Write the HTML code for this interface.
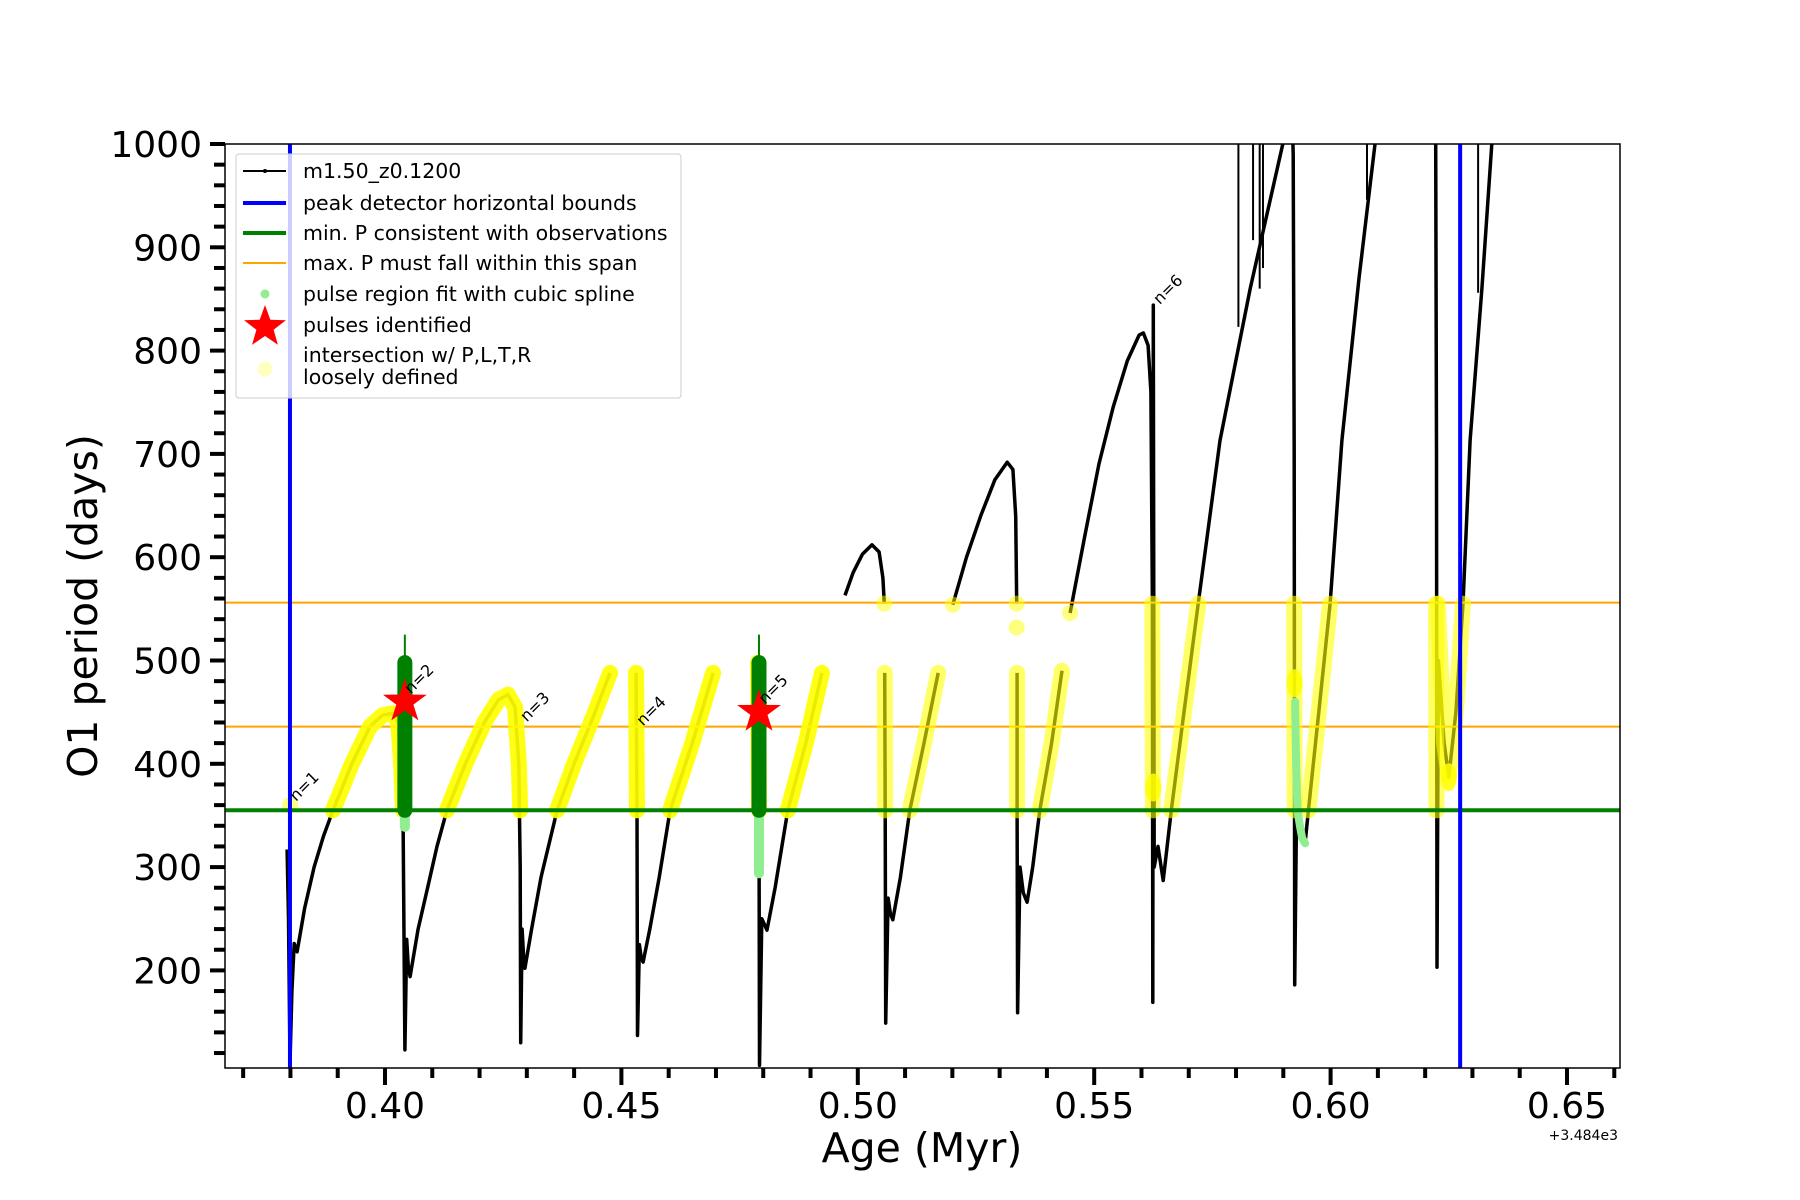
<!DOCTYPE html>
<html><head><meta charset="utf-8"><style>
html,body{margin:0;padding:0;background:#fff;}
svg{display:block;font-family:"DejaVu Sans","Liberation Sans",sans-serif;}
</style></head><body>
<svg id="chart" xmlns="http://www.w3.org/2000/svg" width="1800" height="1200" viewBox="0 0 1800 1200">
<rect x="0" y="0" width="1800" height="1200" fill="#fff"/>
<defs><clipPath id="plotclip"><rect x="225" y="144" width="1395" height="924"/></clipPath></defs>
<g id="plot" clip-path="url(#plotclip)"></g>
<rect x="225" y="144" width="1395" height="924" fill="none" stroke="#000" stroke-width="1.5"/>
<g id="axes"></g>
<text x="1618" y="1140" font-size="14" text-anchor="end">+3.484e3</text>
<text x="922" y="1162" font-size="41" text-anchor="middle">Age (Myr)</text>
<text transform="translate(97,606) rotate(-90)" font-size="41" text-anchor="middle">O1 period (days)</text>
<g id="legend"></g>
</svg>
<script>
// ---- data ----
const xMajorTicks = [0.40, 0.45, 0.50, 0.55, 0.60, 0.65];
const xMajorLabels = ["0.40", "0.45", "0.50", "0.55", "0.60", "0.65"];
const yMajorTicks = [200, 300, 400, 500, 600, 700, 800, 900, 1000];
const yMajorLabels = ["200", "300", "400", "500", "600", "700", "800", "900", "1000"];
const boundAges = [0.3799, 0.6274];
const minP = 355;
const maxPSpan = [436, 556];
const blackSegs = [
 [[0.3793,317],[0.3796,250],[0.3799,110],[0.3803,180],[0.3808,226],[0.3814,218],[0.3830,260],[0.3850,300],[0.3870,330],[0.3890,355],[0.3930,400],[0.3968,436],[0.3995,447],[0.4017,449],[0.4028,440],[0.4034,400],[0.4038,355],[0.4042,123],[0.4046,230],[0.4049,205],[0.4053,194],[0.4070,240],[0.4090,280],[0.4110,320],[0.4131,355],[0.4170,400],[0.4210,440],[0.4240,462],[0.4260,467],[0.4275,455],[0.4283,400],[0.4286,300],[0.4287,130],[0.4290,240],[0.4293,215],[0.4296,202],[0.4310,240],[0.4330,290],[0.4364,355],[0.4400,400],[0.4440,445],[0.4476,488]],
 [[0.4531,488],[0.4533,355],[0.4534,137],[0.4538,225],[0.4542,212],[0.4546,208],[0.4560,240],[0.4580,290],[0.4603,355],[0.4650,420],[0.4694,488]],
 [[0.4789,498],[0.4791,355],[0.4792,108],[0.4797,250],[0.4802,245],[0.4808,239],[0.4825,280],[0.4852,355],[0.4890,420],[0.4924,488]],
 [[0.4973,563],[0.4990,585],[0.5010,603],[0.5030,612],[0.5045,605],[0.5053,580],[0.5056,555]],
 [[0.5057,488],[0.5058,355],[0.5059,149],[0.5064,270],[0.5069,255],[0.5074,249],[0.5090,290],[0.5110,355],[0.5140,420],[0.5170,488]],
 [[0.5201,554],[0.5230,600],[0.5260,640],[0.5290,675],[0.5316,692],[0.5328,685],[0.5334,640],[0.5336,555]],
 [[0.5337,488],[0.5337,355],[0.5338,159],[0.5343,300],[0.5350,275],[0.5358,266],[0.5370,300],[0.5385,355],[0.5410,420],[0.5432,490]],
 [[0.5449,546],[0.5480,620],[0.5510,690],[0.5540,745],[0.5570,790],[0.5595,815],[0.5604,817],[0.5614,805],[0.5620,760],[0.5623,555],[0.5624,169],[0.5625,844],[0.5627,300],[0.5635,320],[0.5646,287],[0.5663,355],[0.5690,450],[0.5720,555],[0.5766,713],[0.5830,860],[0.5899,1000],[0.5905,1040]],
 [[0.5918,1040],[0.5921,990],[0.5923,700],[0.5924,186],[0.5928,360],[0.5935,340],[0.5946,323],[0.5953,355],[0.5975,450],[0.5999,555],[0.6024,713],[0.6060,870],[0.6094,1000],[0.6100,1030]],
 [[0.6222,1040],[0.6224,700],[0.6225,203],[0.6228,500],[0.6240,420],[0.6250,387],[0.6265,450],[0.6280,555],[0.6295,713],[0.6320,860],[0.6341,1000],[0.6345,1030]]
];
const spikeAges = [0.5805, 0.5836, 0.5850, 0.5857, 0.6077, 0.6312];
const spikeBottoms = [823, 907, 860, 880, 946, 856];
const yellowSegs = [
 [[0.3890,355],[0.3930,400],[0.3968,436],[0.3995,447],[0.4017,449],[0.4028,440],[0.4034,400],[0.4038,355]],
 [[0.4131,355],[0.4170,400],[0.4210,440],[0.4240,462],[0.4260,467],[0.4275,455],[0.4283,400],[0.4286,355]],
 [[0.4364,355],[0.4400,400],[0.4440,445],[0.4476,488]],
 [[0.4531,488],[0.4533,355]],
 [[0.4603,355],[0.4650,420],[0.4694,488]],
 [[0.4789,498],[0.4791,355]],
 [[0.4852,355],[0.4890,420],[0.4924,488]],
 [[0.5057,488],[0.5058,355]],
 [[0.5110,355],[0.5140,420],[0.5170,488]],
 [[0.5337,488],[0.5337,355]],
 [[0.5385,355],[0.5410,420],[0.5432,490]],
 [[0.5623,555],[0.5624,355]],
 [[0.5663,355],[0.5690,450],[0.5720,555]],
 [[0.5923,555],[0.5924,355]],
 [[0.5953,355],[0.5975,450],[0.5999,555]],
 [[0.6223,555],[0.6224,355]],
 [[0.6227,555],[0.6240,420],[0.6250,387],[0.6265,450],[0.6280,555]]
];
const yellowDotAges = [0.3799, 0.5056, 0.5201, 0.5336, 0.5336, 0.5449];
const yellowDotVals = [360, 555, 554, 555, 532, 546];
const brightBlobAges = [0.5625, 0.5924, 0.6250];
const brightBlobVals = [377, 478, 387];
const pulseAges = [0.4042, 0.4791];
const pulseTops = [498, 498];
const pulseThinTops = [525, 525];
const pulseLightBottoms = [339, 294];
const splineAges = [0.5925, 0.5927, 0.5930, 0.5935, 0.5940, 0.5946];
const splineVals = [460, 400, 355, 340, 328, 323];
const starAges = [0.4042, 0.4791];
const starVals = [460, 450];
const nLabelAges = [0.3799, 0.4042, 0.4287, 0.4533, 0.4791, 0.5626];
const nLabelVals = [363, 467, 440, 436, 457, 844];
const nLabelTexts = ["n=1", "n=2", "n=3", "n=4", "n=5", "n=6"];

// ---- scales ----
const NS = "http://www.w3.org/2000/svg";
function xs(a){ return 385 + (a - 0.40) * 4728; }
function ys(v){ return 144 + (1000 - v) * 1.033; }
function mk(tag, parent){ const e = document.createElementNS(NS, tag); parent.appendChild(e); return e; }
function pts(seg){ return seg.map(p => xs(p[0]).toFixed(1) + "," + ys(p[1]).toFixed(1)).join(" "); }
function starPath(cx, cy, R, r){
  let d = "";
  for (let i = 0; i < 10; i++){
    const ang = -Math.PI/2 + i * Math.PI/5;
    const rr = i % 2 ? r : R;
    d += (i ? "L" : "M") + (cx + rr*Math.cos(ang)).toFixed(1) + "," + (cy + rr*Math.sin(ang)).toFixed(1);
  }
  return d + "Z";
}
const plot = document.getElementById("plot");
const axes = document.getElementById("axes");

blackSegs.forEach(seg => {
  const pl = mk("polyline", plot);
  pl.setAttribute("points", pts(seg));
  pl.setAttribute("fill", "none"); pl.setAttribute("stroke", "#000");
  pl.setAttribute("stroke-width", "3.5"); pl.setAttribute("stroke-linejoin", "round");
  
  
});
spikeAges.forEach((a, i) => {
  const l = mk("line", plot);
  l.setAttribute("x1", xs(a)); l.setAttribute("x2", xs(a));
  l.setAttribute("y1", ys(1010)); l.setAttribute("y2", ys(spikeBottoms[i]));
  l.setAttribute("stroke", "#000"); l.setAttribute("stroke-width", "2");
  
  
});
maxPSpan.forEach(v => {
  const l = mk("line", plot);
  l.setAttribute("x1", 225); l.setAttribute("x2", 1620);
  l.setAttribute("y1", ys(v)); l.setAttribute("y2", ys(v));
  l.setAttribute("stroke", "#ffa500"); l.setAttribute("stroke-width", "2");
  
  
});
yellowSegs.forEach(seg => {
  const loose = seg[0][0] > 0.50;
  const pl = mk("polyline", plot);
  pl.setAttribute("points", pts(seg));
  pl.setAttribute("fill", "none"); pl.setAttribute("stroke", "#ffff00");
  pl.setAttribute("stroke-width", "16"); pl.setAttribute("stroke-linecap", "round"); pl.setAttribute("stroke-linejoin", "round");
  pl.setAttribute("stroke-opacity", loose ? "0.6" : "0.92");
  
  
});
yellowDotAges.forEach((a, i) => {
  const c = mk("circle", plot);
  c.setAttribute("cx", xs(a)); c.setAttribute("cy", ys(yellowDotVals[i])); c.setAttribute("r", "8");
  c.setAttribute("fill", "#ffff00"); c.setAttribute("fill-opacity", "0.5");
  
  
});
brightBlobAges.forEach((a, i) => {
  const e = mk("ellipse", plot);
  e.setAttribute("cx", xs(a)); e.setAttribute("cy", ys(brightBlobVals[i])); e.setAttribute("rx", "8"); e.setAttribute("ry", "14");
  e.setAttribute("fill", "#ffff00"); e.setAttribute("fill-opacity", "0.85");
  
  
});
(function(){
  const pl = mk("polyline", plot);
  pl.setAttribute("points", splineAges.map((a,i)=> xs(a).toFixed(1)+","+ys(splineVals[i]).toFixed(1)).join(" "));
  pl.setAttribute("fill", "none"); pl.setAttribute("stroke", "#90ee90"); pl.setAttribute("stroke-width", "8");
  pl.setAttribute("stroke-linecap", "round");
  
  
})();
pulseAges.forEach((a, i) => {
  const lg = mk("line", plot);
  lg.setAttribute("x1", xs(a)); lg.setAttribute("x2", xs(a));
  lg.setAttribute("y1", ys(minP)); lg.setAttribute("y2", ys(pulseLightBottoms[i]));
  lg.setAttribute("stroke", "#90ee90"); lg.setAttribute("stroke-width", "10"); lg.setAttribute("stroke-linecap", "round");
  
  
  const th = mk("line", plot);
  th.setAttribute("x1", xs(a)); th.setAttribute("x2", xs(a));
  th.setAttribute("y1", ys(pulseThinTops[i])); th.setAttribute("y2", ys(minP));
  th.setAttribute("stroke", "#008000"); th.setAttribute("stroke-width", "2");
  
  
  const g = mk("line", plot);
  g.setAttribute("x1", xs(a)); g.setAttribute("x2", xs(a));
  g.setAttribute("y1", ys(pulseTops[i])); g.setAttribute("y2", ys(minP));
  g.setAttribute("stroke", "#008000"); g.setAttribute("stroke-width", "15"); g.setAttribute("stroke-linecap", "round");
  
  
});
(function(){
  const l = mk("line", plot);
  l.setAttribute("x1", 225); l.setAttribute("x2", 1620);
  l.setAttribute("y1", ys(minP)); l.setAttribute("y2", ys(minP));
  l.setAttribute("stroke", "#008000"); l.setAttribute("stroke-width", "4");
  
  
})();
starAges.forEach((a, i) => {
  const p = mk("path", plot);
  p.setAttribute("d", starPath(xs(a), ys(starVals[i]), 23, 9));
  p.setAttribute("fill", "#ff0000");
  
  
});
boundAges.forEach(a => {
  const l = mk("line", plot);
  l.setAttribute("x1", xs(a)); l.setAttribute("x2", xs(a));
  l.setAttribute("y1", 144); l.setAttribute("y2", 1068);
  l.setAttribute("stroke", "#0000ff"); l.setAttribute("stroke-width", "4");
  
  
});
nLabelAges.forEach((a, i) => {
  const t = mk("text", plot);
  const X = xs(a) + 6, Y = ys(nLabelVals[i]);
  t.setAttribute("transform", "translate(" + X.toFixed(1) + "," + Y.toFixed(1) + ") rotate(-45)");
  t.setAttribute("font-size", "16");
  t.textContent = nLabelTexts[i];
  
  
});

for (let k = 37; k <= 66; k++) {
  const a = k / 100;
  const major = (k % 5 === 0);
  const l = mk("line", axes);
  l.setAttribute("x1", xs(a)); l.setAttribute("x2", xs(a));
  l.setAttribute("y1", 1068); l.setAttribute("y2", 1068 + (major ? 17 : 10));
  l.setAttribute("stroke", "#000"); l.setAttribute("stroke-width", "4");
  
  
}
xMajorTicks.forEach((a, i) => {
  const t = mk("text", axes);
  t.setAttribute("x", xs(a)); t.setAttribute("y", 1118);
  t.setAttribute("font-size", "36"); t.setAttribute("text-anchor", "middle");
  t.textContent = xMajorLabels[i];
  
  
});
for (let v = 120; v <= 1000; v += 20) {
  const major = (v % 100 === 0);
  const l = mk("line", axes);
  l.setAttribute("x1", 225 - (major ? 15 : 11)); l.setAttribute("x2", 225);
  l.setAttribute("y1", ys(v)); l.setAttribute("y2", ys(v));
  l.setAttribute("stroke", "#000"); l.setAttribute("stroke-width", "4");
  
  
}
yMajorTicks.forEach((v, i) => {
  const t = mk("text", axes);
  t.setAttribute("x", 202); t.setAttribute("y", ys(v) + 13);
  t.setAttribute("font-size", "36"); t.setAttribute("text-anchor", "end");
  t.textContent = yMajorLabels[i];
  
  
});

const lg = document.getElementById("legend");
(function(){
  const box = mk("rect", lg);
  box.setAttribute("x", 236); box.setAttribute("y", 154); box.setAttribute("width", 445); box.setAttribute("height", 244);
  box.setAttribute("rx", 3); box.setAttribute("fill", "#fff"); box.setAttribute("fill-opacity", "0.8");
  box.setAttribute("stroke", "#ccc"); box.setAttribute("stroke-width", "1");
  
  
})();
const legendTexts = ["m1.50_z0.1200","peak detector horizontal bounds","min. P consistent with observations","max. P must fall within this span","pulse region fit with cubic spline","pulses identified","intersection w/ P,L,T,R","loosely defined"];
const legendRowY = [171, 203, 233, 263, 294, 325, 355, 377];
legendTexts.forEach((s, i) => {
  const t = mk("text", lg);
  t.setAttribute("x", 303); t.setAttribute("y", legendRowY[i] + 7);
  t.setAttribute("font-size", "20.5");
  t.textContent = s;
  
  
});
function legLine(y, color, w, name){
  const l = mk("line", lg);
  l.setAttribute("x1", 243); l.setAttribute("x2", 286); l.setAttribute("y1", y); l.setAttribute("y2", y);
  l.setAttribute("stroke", color); l.setAttribute("stroke-width", w);
  
  
}
legLine(171, "#000", 2, "legend-entry-model");
(function(){ const c = mk("circle", lg); c.setAttribute("cx", 265); c.setAttribute("cy", 171); c.setAttribute("r", 2); c.setAttribute("fill", "#000");
    })();
legLine(203, "#0000ff", 4, "legend-entry-bounds");
legLine(233, "#008000", 4, "legend-entry-min-p");
legLine(263, "#ffa500", 2, "legend-entry-max-p");
(function(){
  const c = mk("circle", lg); c.setAttribute("cx", 265); c.setAttribute("cy", 294); c.setAttribute("r", 4.5); c.setAttribute("fill", "#90ee90");
   
  const p = mk("path", lg); p.setAttribute("d", starPath(265, 327, 22, 9)); p.setAttribute("fill", "#ff0000");
   
  const y = mk("circle", lg); y.setAttribute("cx", 265); y.setAttribute("cy", 369); y.setAttribute("r", 7.5); y.setAttribute("fill", "#ffffbf");
   
})();
</script>
</body></html>
